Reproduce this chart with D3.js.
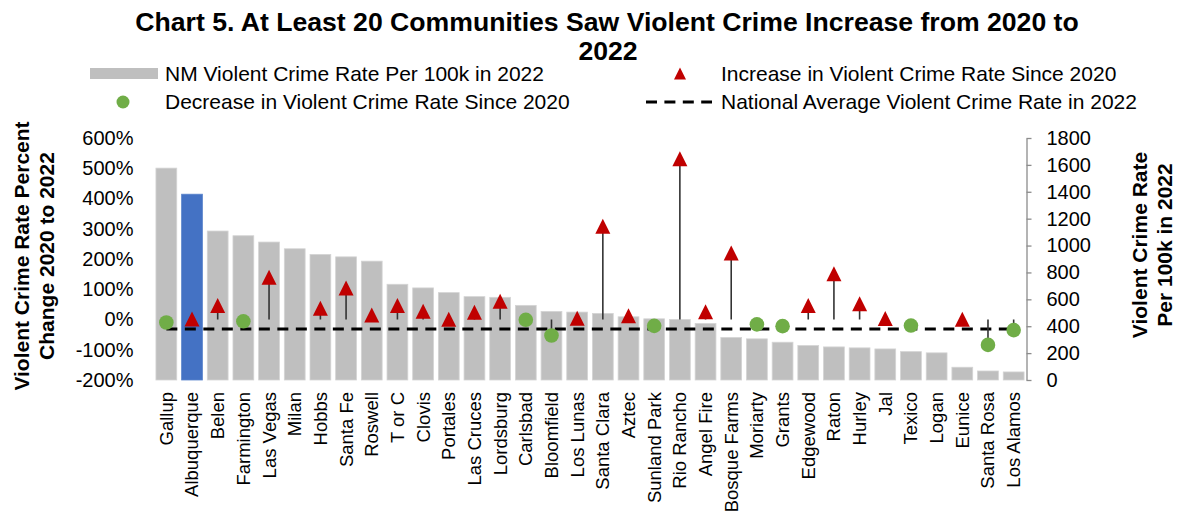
<!DOCTYPE html>
<html>
<head>
<meta charset="utf-8">
<script src="https://cdn.jsdelivr.net/npm/d3@7"></script>
<style>
  html, body { margin: 0; padding: 0; background: #fff; }
  svg { display: block; font-family: "Liberation Sans", Arial, sans-serif; }
</style>
</head>
<body>
<svg id="chart" width="1178" height="511"></svg>
<script>
// ---- Data ----
const categories = ["Gallup","Albuquerque","Belen","Farmington","Las Vegas","Milan","Hobbs","Santa Fe","Roswell","T or C","Clovis","Portales","Las Cruces","Lordsburg","Carlsbad","Bloomfield","Los Lunas","Santa Clara","Aztec","Sunland Park","Rio Rancho","Angel Fire","Bosque Farms","Moriarty","Grants","Edgewood","Raton","Hurley","Jal","Texico","Logan","Eunice","Santa Rosa","Los Alamos"];
const rate2022 = [1576,1382,1108,1073,1026,976,934,916,884,712,685,650,620,615,555,510,505,495,470,455,450,420,316,306,281,256,246,239,231,211,202,95,67,60];
const pctChange = [-10,2,46,-6,140,null,37,104,15,46,27,1,24,60,-1,-53,4,308,12,-21,531,26,220,-16,-22,46,151,52,3,-20,null,1,-84,-35];
const nationalAvg = 380;
const highlighted = "Albuquerque";
const leftTicks = [-200,-100,0,100,200,300,400,500,600];
const rightTicks = [0,200,400,600,800,1000,1200,1400,1600,1800];
const titleLines = ["Chart 5. At Least 20 Communities Saw Violent Crime Increase from 2020 to", "2022"];
const legendLabels = ["NM Violent Crime Rate Per 100k in 2022","Increase in Violent Crime Rate Since 2020","Decrease in Violent Crime Rate Since 2020","National Average Violent Crime Rate in 2022"];
const leftTitle = ["Violent Crime Rate Percent","Change 2020 to 2022"];
const rightTitle = ["Violent Crime Rate","Per 100k in 2022"];

// ---- Layout ----
const svg = d3.select("#chart");
const plot = {left: 153.5, right: 1026.5, top: 138, bottom: 380};
const C = {gray: "#BFBFBF", blue: "#4472C4", red: "#C00000", green: "#70AD47"};

const x = d3.scaleBand().domain(categories).range([plot.left, plot.right]).paddingInner(0.19).paddingOuter(0.095);
const yL = d3.scaleLinear().domain([-200, 600]).range([plot.bottom, plot.top]);
const yR = d3.scaleLinear().domain([0, 1800]).range([plot.bottom, plot.top]);

// ---- Title ----
const t1 = svg.append("text").attr("x", 607).attr("y", 31).attr("text-anchor", "middle")
  .attr("font-weight", "bold").attr("font-size", 24).attr("fill", "#000").text(titleLines[0]);
const w1 = t1.node().getComputedTextLength();
const tSize = 24 * 944 / w1;
t1.attr("font-size", tSize);
svg.append("text").attr("x", 608).attr("y", 60).attr("text-anchor", "middle")
  .attr("font-weight", "bold").attr("font-size", tSize).attr("fill", "#000").text(titleLines[1]);

// ---- Legend ----
const lg = svg.append("g").attr("font-size", 21).attr("fill", "#000");
lg.append("rect").attr("x", 90).attr("y", 68).attr("width", 68).attr("height", 11).attr("fill", C.gray);
lg.append("text").attr("x", 165).attr("y", 73.5).attr("dy", "0.35em").text(legendLabels[0]);
lg.append("path").attr("d", "M0,-6L6,6L-6,6Z").attr("transform", "translate(680,73.5)").attr("fill", C.red);
lg.append("text").attr("x", 721).attr("y", 73.5).attr("dy", "0.35em").text(legendLabels[1]);
lg.append("circle").attr("cx", 123).attr("cy", 102).attr("r", 6.5).attr("fill", C.green);
lg.append("text").attr("x", 165).attr("y", 102).attr("dy", "0.35em").text(legendLabels[2]);
lg.append("line").attr("x1", 646).attr("x2", 712).attr("y1", 102).attr("y2", 102)
  .attr("stroke", "#000").attr("stroke-width", 3).attr("stroke-dasharray", "11,7.4");
lg.append("text").attr("x", 721).attr("y", 102).attr("dy", "0.35em").text(legendLabels[3]);

// ---- Bars ----
svg.append("g").selectAll("rect").data(categories).join("rect")
  .attr("x", d => x(d)).attr("width", x.bandwidth())
  .attr("y", (d, i) => yR(rate2022[i])).attr("height", (d, i) => yR(0) - yR(rate2022[i]))
  .attr("fill", d => d === highlighted ? C.blue : C.gray)
  .attr("stroke", d => d === highlighted ? "#5b84cc" : "#d4d4d4").attr("stroke-width", 0.8);

// ---- National average dashed line ----
const line = d3.line().x(d => x(d) + x.bandwidth() / 2).y(() => yR(nationalAvg));
svg.append("path").datum(categories).attr("d", line).attr("fill", "none")
  .attr("stroke", "#000").attr("stroke-width", 3).attr("stroke-dasharray", "11,7.5");

// ---- Drop lines from 0% to marker ----
const pts = categories.map((c, i) => ({c, v: pctChange[i]})).filter(d => d.v !== null);
svg.append("g").selectAll("line").data(pts).join("line")
  .attr("x1", d => x(d.c) + x.bandwidth() / 2).attr("x2", d => x(d.c) + x.bandwidth() / 2)
  .attr("y1", yL(0)).attr("y2", d => yL(d.v))
  .attr("stroke", "#333").attr("stroke-width", 1.6);

// ---- Markers ----
const tri = "M0,-7.5L7.5,7.5L-7.5,7.5Z";
svg.append("g").selectAll("path").data(pts.filter(d => d.v > 0)).join("path")
  .attr("d", tri)
  .attr("transform", d => `translate(${x(d.c) + x.bandwidth() / 2},${yL(d.v)})`)
  .attr("fill", C.red);
svg.append("g").selectAll("circle").data(pts.filter(d => d.v <= 0)).join("circle")
  .attr("cx", d => x(d.c) + x.bandwidth() / 2).attr("cy", d => yL(d.v)).attr("r", 7.3)
  .attr("fill", C.green);

// ---- Left axis (labels only) ----
const axL = svg.append("g").attr("transform", `translate(${plot.left},0)`)
  .call(d3.axisLeft(yL).tickValues(leftTicks).tickFormat(d => d + "%").tickSize(0).tickPadding(20));
axL.select(".domain").remove();
axL.selectAll("text").attr("font-size", 20).attr("font-family", "Liberation Sans, Arial, sans-serif").attr("fill", "#000");

// ---- Right axis ----
const axR = svg.append("g").attr("transform", `translate(${plot.right},0)`)
  .call(d3.axisRight(yR).tickValues(rightTicks).tickFormat(d3.format("d")).tickSize(5).tickSizeOuter(0).tickPadding(15));
axR.select(".domain").attr("stroke", "#8c8c8c").attr("stroke-width", 1.3);
axR.selectAll(".tick line").attr("stroke", "#8c8c8c").attr("stroke-width", 1.3);
axR.selectAll("text").attr("font-size", 20).attr("font-family", "Liberation Sans, Arial, sans-serif").attr("fill", "#000");

// ---- X labels ----
svg.append("g").selectAll("text").data(categories).join("text")
  .attr("transform", d => `translate(${x(d) + x.bandwidth() / 2},392) rotate(-90)`)
  .attr("text-anchor", "end").attr("dy", "0.35em").attr("font-size", 18.5).attr("fill", "#000")
  .text(d => d);

// ---- Axis titles ----
const lt = svg.append("text").attr("transform", "translate(22,256) rotate(-90)")
  .attr("text-anchor", "middle").attr("font-weight", "bold").attr("font-size", 21);
lt.append("tspan").attr("x", 0).attr("dy", "0.35em").text(leftTitle[0]);
lt.append("tspan").attr("x", 0).attr("dy", "1.15em").text(leftTitle[1]);
const rt = svg.append("text").attr("transform", "translate(1140,245) rotate(-90)")
  .attr("text-anchor", "middle").attr("font-weight", "bold").attr("font-size", 21);
rt.append("tspan").attr("x", 0).attr("dy", "0.35em").text(rightTitle[0]);
rt.append("tspan").attr("x", 0).attr("dy", "1.15em").text(rightTitle[1]);
</script>
</body>
</html>
